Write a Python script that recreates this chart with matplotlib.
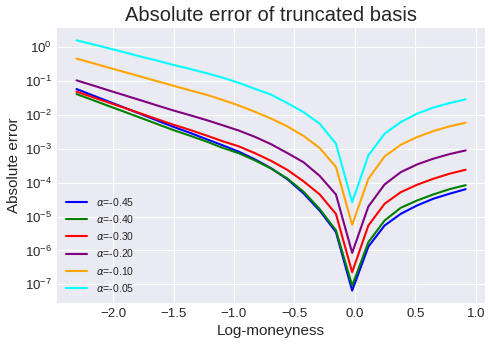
import numpy as np
import matplotlib
matplotlib.use("Agg")
import matplotlib.pyplot as plt

# log-moneyness grid: log(K) for 25 strikes between 0.1 and 2.5
log_moneyness = np.linspace(np.log(0.1), np.log(2.5), 25)

alphas = [-0.45, -0.40, -0.30, -0.20, -0.10, -0.05]
colors = ["blue", "green", "red", "purple", "orange", "cyan"]

err_m045 = [0.0569, 0.0371, 0.0242, 0.01577, 0.01028, 0.00665, 0.00434, 0.00292,
            0.00191, 0.00126, 8.16e-4, 4.83e-4, 2.64e-4, 1.26e-4, 4.80e-5, 1.48e-5,
            3.49e-6, 6.56e-8, 1.30e-6, 5.43e-6, 1.20e-5, 2.11e-5, 3.33e-5, 4.68e-5,
            6.38e-5]
err_m040 = [0.0405, 0.0270, 0.0179, 0.01194, 0.00794, 0.00525, 0.00349, 0.00240,
            0.00163, 0.00106, 7.36e-4, 4.52e-4, 2.59e-4, 1.32e-4, 5.39e-5, 1.65e-5,
            3.92e-6, 9.22e-8, 1.75e-6, 7.62e-6, 1.81e-5, 2.96e-5, 4.46e-5, 6.38e-5,
            8.38e-5]
err_m030 = [0.0477, 0.0328, 0.0226, 0.01555, 0.0107, 0.00731, 0.00503, 0.00356,
            0.00245, 0.00166, 0.00117, 7.36e-4, 4.37e-4, 2.37e-4, 1.09e-4, 4.46e-5,
            1.19e-5, 2.28e-7, 5.43e-6, 2.37e-5, 5.21e-5, 8.61e-5, 1.29e-4, 1.82e-4,
            2.39e-4]
err_m020 = [0.1027, 0.0731, 0.0517, 0.0368, 0.0262, 0.0185, 0.0132, 0.00966,
            0.00698, 0.00490, 0.00342, 0.00223, 0.00135, 7.42e-4, 3.97e-4, 1.57e-4,
            4.46e-5, 8.49e-7, 1.97e-5, 8.79e-5, 2.03e-4, 3.42e-4, 5.04e-4, 6.89e-4,
            8.85e-4]
err_m010 = [0.449, 0.331, 0.242, 0.178, 0.131, 0.096, 0.0707, 0.0521,
            0.0389, 0.0273, 0.0187, 0.0122, 0.00768, 0.00452, 0.00237, 0.00104,
            2.88e-4, 5.69e-6, 1.29e-4, 5.89e-4, 1.30e-3, 2.18e-3, 3.28e-3, 4.52e-3,
            5.81e-3]
err_m005 = [1.55, 1.19, 0.90, 0.68, 0.51, 0.39, 0.29, 0.223,
            0.168, 0.124, 0.087, 0.058, 0.039, 0.022, 0.0119, 0.0054,
            0.0014, 2.64e-5, 6.3e-4, 2.75e-3, 6.05e-3, 0.0107, 0.0161, 0.022,
            0.0283]

errors = [err_m045, err_m040, err_m030, err_m020, err_m010, err_m005]


def main():
    plt.style.use("seaborn-v0_8-darkgrid")
    plt.rcParams["font.family"] = ["Liberation Sans", "DejaVu Sans"]

    fig = plt.figure(figsize=(4.92, 3.48), dpi=100)
    ax = fig.add_axes([0.116, 0.129, 0.870, 0.791])

    for alpha, err, col in zip(alphas, errors, colors):
        ax.plot(log_moneyness, err, color=col, lw=1.5,
                label=r"$\alpha$=%.2f" % alpha)

    ax.set_yscale("log")
    ax.set_title("Absolute error of truncated basis", fontsize=14.5, pad=5)
    ax.set_xlabel("Log-moneyness", fontsize=11, labelpad=3)
    ax.set_ylabel("Absolute error", fontsize=11, labelpad=3)
    ax.tick_params(labelsize=9.5)
    ax.legend(loc="lower left", fontsize=7.5)

    fig.savefig("out.png", dpi=100)


if __name__ == "__main__":
    main()
